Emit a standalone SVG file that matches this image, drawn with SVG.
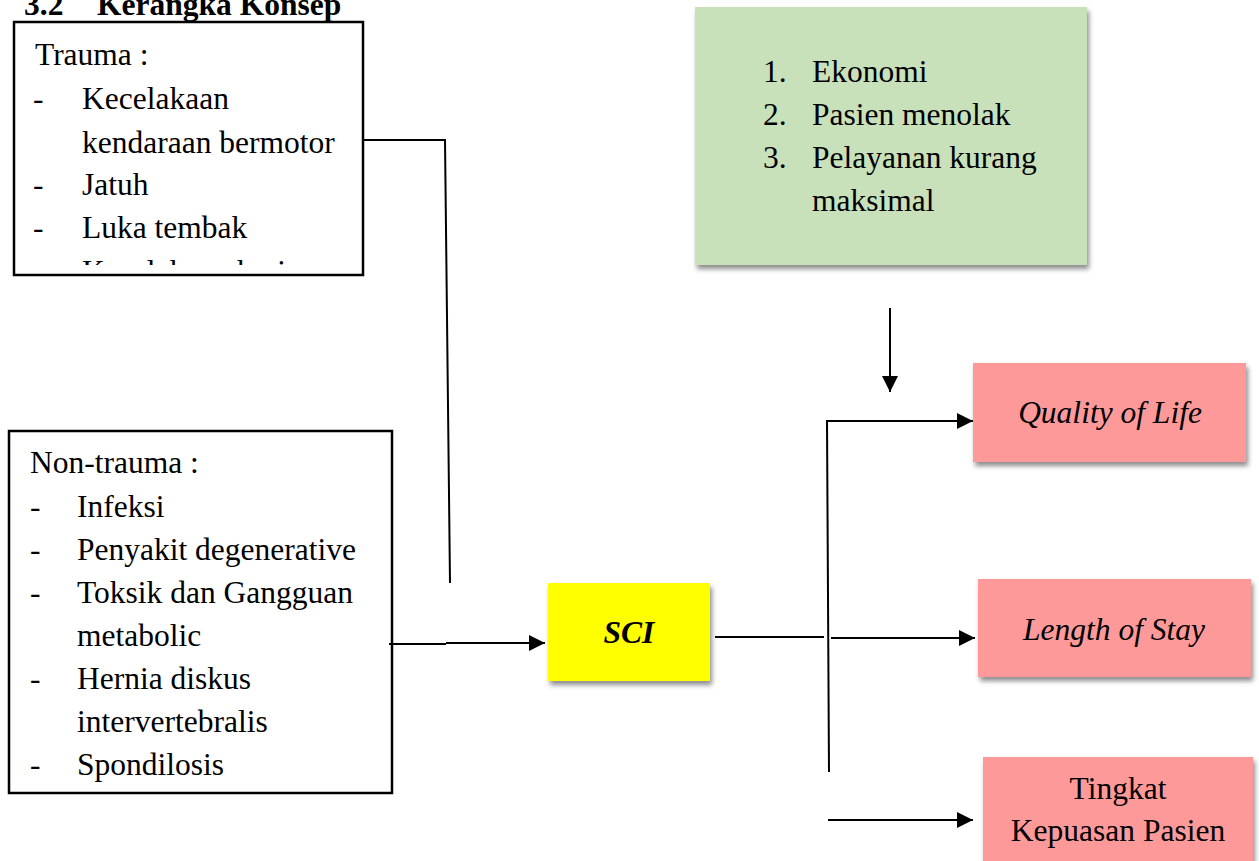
<svg xmlns="http://www.w3.org/2000/svg" width="1259" height="861" viewBox="0 0 1259 861">
<style>
text{font-family:"Liberation Serif","Times New Roman",serif;font-size:31.5px;fill:#000}
.b{font-weight:bold}
.i{font-style:italic}
.bi{font-weight:bold;font-style:italic}
.box{fill:#fff;stroke:#000;stroke-width:2.5}
.ln{stroke:#000;stroke-width:2;fill:none}
.mid{text-anchor:middle}
</style>
<defs>
<filter id="sh" x="-10%" y="-10%" width="125%" height="130%">
<feDropShadow dx="2" dy="4" stdDeviation="2.5" flood-color="#000" flood-opacity="0.45"/>
</filter>
<marker id="ah" viewBox="0 0 16 16" refX="16" refY="8" markerWidth="16" markerHeight="16" markerUnits="userSpaceOnUse" orient="auto">
<path d="M0,0 L16,8 L0,16 Z" fill="#000"/>
</marker>
<clipPath id="clipT"><rect x="14" y="22" width="349" height="243"/></clipPath>
</defs>
<rect width="1259" height="861" fill="#fff"/>

<g id="title">
<text class="b" x="24" y="15">3.2</text>
<text class="b" x="97" y="15">Kerangka Konsep</text>
</g>

<g id="trauma">
<rect class="box" x="14" y="22" width="349" height="253"/>
<g clip-path="url(#clipT)">
<text x="35" y="65">Trauma :</text>
<text x="33" y="109">-</text><text x="82" y="109">Kecelakaan</text>
<text x="82" y="153">kendaraan bermotor</text>
<text x="33" y="195">-</text><text x="82" y="195">Jatuh</text>
<text x="33" y="238">-</text><text x="82" y="238">Luka tembak</text>
<text x="33" y="282">-</text><text x="82" y="282">Kecelakaan kerja</text>
</g>
</g>

<g id="nontrauma">
<rect class="box" x="9" y="431" width="383" height="362"/>
<text x="30" y="473">Non-trauma :</text>
<text x="30" y="517">-</text><text x="77" y="517">Infeksi</text>
<text x="30" y="560">-</text><text x="77" y="560">Penyakit degenerative</text>
<text x="30" y="603">-</text><text x="77" y="603">Toksik dan Gangguan</text>
<text x="77" y="646">metabolic</text>
<text x="30" y="689">-</text><text x="77" y="689">Hernia diskus</text>
<text x="77" y="732">intervertebralis</text>
<text x="30" y="775">-</text><text x="77" y="775">Spondilosis</text>
</g>

<g id="factors">
<rect x="695" y="7" width="392" height="258" fill="#c9e1bb" filter="url(#sh)"/>
<text x="763" y="82">1.</text><text x="812" y="82">Ekonomi</text>
<text x="763" y="125">2.</text><text x="812" y="125">Pasien menolak</text>
<text x="763" y="168">3.</text><text x="812" y="168">Pelayanan kurang</text>
<text x="812" y="211">maksimal</text>
</g>

<g id="sci">
<rect x="548" y="583" width="162" height="98" fill="#ffff00" filter="url(#sh)"/>
<text class="bi mid" x="629" y="643">SCI</text>
</g>

<g id="qol">
<rect x="973" y="363" width="273" height="99" fill="#fe9999" filter="url(#sh)"/>
<text class="i mid" x="1110" y="423">Quality of Life</text>
</g>

<g id="los">
<rect x="978" y="579" width="273" height="98" fill="#fe9999" filter="url(#sh)"/>
<text class="i mid" x="1114" y="640">Length of Stay</text>
</g>

<g id="kepuasan">
<rect x="983" y="757" width="270" height="110" fill="#fe9999" filter="url(#sh)"/>
<text class="mid" x="1118" y="799">Tingkat</text>
<text class="mid" x="1118" y="841">Kepuasan Pasien</text>
</g>

<g id="connectors">
<polyline class="ln" points="363,140 445,140 450,583"/>
<line class="ln" x1="389" y1="644" x2="446" y2="644" stroke-width="2.5"/>
<line class="ln" x1="446" y1="643" x2="545" y2="643" marker-end="url(#ah)"/>
<line class="ln" x1="715" y1="637" x2="824" y2="637" stroke-width="2.5"/>
<line class="ln" x1="890" y1="308" x2="890" y2="392" marker-end="url(#ah)"/>
<polyline class="ln" points="829,772 827,421 973,421" marker-end="url(#ah)"/>
<line class="ln" x1="831" y1="638" x2="975" y2="638" marker-end="url(#ah)"/>
<line class="ln" x1="828" y1="820" x2="973" y2="820" marker-end="url(#ah)"/>
</g>
</svg>
